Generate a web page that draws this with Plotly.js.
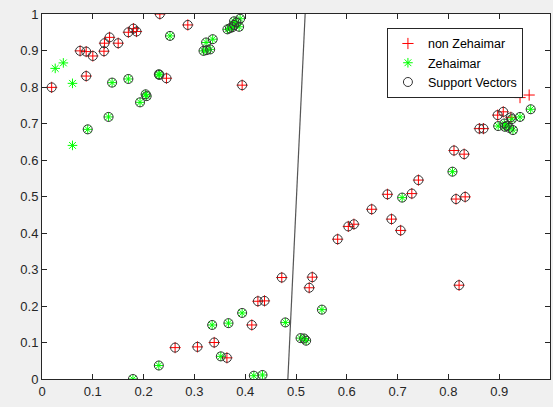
<!DOCTYPE html>
<html>
<head>
<meta charset="utf-8">
<script src="https://cdn.plot.ly/plotly-3.0.1.min.js"></script>
<style>html,body{margin:0;padding:0;background:#f0f0f0;}#chart{width:553px;height:407px;}</style>
</head>
<body>
<div id="chart"></div>
<script>
// non Zehaimar (red +)
var nonX = [0.019,0.075,0.087,0.100,0.087,0.122,0.123,0.133,0.150,0.170,0.180,0.186,0.232,0.245,0.287,0.394,
            0.262,0.306,0.339,0.364,0.413,0.425,0.438,0.472,0.532,0.526,
            0.582,0.603,0.614,0.649,0.680,0.688,0.706,0.728,0.741,0.811,0.831,0.815,0.833,0.821,
            0.861,0.869,0.897,0.908,0.923,0.941,0.959];
var nonY = [0.799,0.899,0.897,0.885,0.830,0.898,0.920,0.936,0.920,0.950,0.960,0.952,1.000,0.824,0.970,0.805,
            0.086,0.088,0.100,0.058,0.148,0.213,0.214,0.278,0.279,0.250,
            0.383,0.418,0.424,0.465,0.506,0.438,0.407,0.508,0.545,0.626,0.616,0.493,0.499,0.257,
            0.686,0.686,0.723,0.732,0.717,0.771,0.778];
var nonSV = [1,1,1,1,1,1,1,1,1,1,1,1,1,1,1,1,
             1,1,1,1,1,1,1,1,1,1,
             1,1,1,1,1,1,1,1,1,1,1,1,1,1,
             1,1,1,1,1,0,0];

// Zehaimar (green *)
var zehX = [0.026,0.042,0.060,0.060,
            0.090,0.138,0.131,0.170,0.193,0.204,0.206,0.231,0.230,0.252,
            0.318,0.324,0.331,0.323,0.336,
            0.365,0.370,0.375,0.378,0.383,0.390,0.378,0.388,
            0.179,0.230,0.335,0.352,0.367,0.394,0.417,0.434,0.479,0.551,0.509,0.516,0.520,
            0.709,0.808,0.898,0.911,0.915,0.920,0.910,0.927,0.941,0.962,0.925];
var zehY = [0.851,0.866,0.810,0.640,
            0.684,0.812,0.718,0.822,0.758,0.780,0.775,0.833,0.835,0.940,
            0.899,0.901,0.903,0.922,0.931,
            0.958,0.961,0.964,0.970,0.977,0.987,0.980,0.965,
            0.000,0.037,0.148,0.062,0.153,0.181,0.009,0.011,0.155,0.190,0.112,0.111,0.105,
            0.497,0.568,0.693,0.691,0.694,0.688,0.700,0.682,0.718,0.739,0.712];
var zehSV = [0,0,0,0,
             1,1,1,1,1,1,1,1,1,1,
             1,1,1,1,1,
             1,1,1,1,1,1,1,1,
             1,1,1,1,1,1,1,1,1,1,1,1,1,
             1,1,1,1,1,1,1,1,1,1,1];

// decision boundary
var boundaryX = [0.484, 0.518];
var boundaryY = [0.0, 1.0];

var svX = [], svY = [];
nonX.forEach(function(v,i){ if(nonSV[i]){ svX.push(v); svY.push(nonY[i]); } });
zehX.forEach(function(v,i){ if(zehSV[i]){ svX.push(v); svY.push(zehY[i]); } });

var traces = [
  {x: nonX, y: nonY, type:'scatter', mode:'markers', name:'non Zehaimar',
   marker:{symbol:'cross-thin-open', size:8, color:'#ff0000', line:{color:'#ff0000', width:1}}},
  {x: zehX, y: zehY, type:'scatter', mode:'markers', name:'Zehaimar',
   marker:{symbol:'asterisk-open', size:8, color:'#00ff00', line:{color:'#00ff00', width:1}}},
  {x: svX, y: svY, type:'scatter', mode:'markers', name:'Support Vectors',
   marker:{symbol:'circle-open', size:9, color:'#333333', line:{color:'#333333', width:1}}},
  {x: boundaryX, y: boundaryY, type:'scatter', mode:'lines', showlegend:false,
   line:{color:'#555555', width:1.2}}
];

var axisCommon = {
  range:[0,1], dtick:0.1, tick0:0, showgrid:false, zeroline:false,
  showline:true, linecolor:'#262626', linewidth:1, mirror:'ticks',
  ticks:'inside', ticklen:5, tickcolor:'#262626',
  tickfont:{family:'Liberation Sans, Arial, sans-serif', size:13, color:'#262626'}
};

var layout = {
  width:553, height:407,
  margin:{l:42, r:3, t:14, b:28, pad:0},
  paper_bgcolor:'#f0f0f0', plot_bgcolor:'#ffffff',
  xaxis: Object.assign({}, axisCommon),
  yaxis: Object.assign({}, axisCommon),
  showlegend:true,
  legend:{x:0.679, y:0.962, xanchor:'left', yanchor:'top',
          bgcolor:'#ffffff', bordercolor:'#262626', borderwidth:1,
          font:{family:'Liberation Sans, Arial, sans-serif', size:12.5, color:'#000000'},
          tracegroupgap:0}
};

Plotly.newPlot('chart', traces, layout, {staticPlot:true, displayModeBar:false});
</script>
</body>
</html>
